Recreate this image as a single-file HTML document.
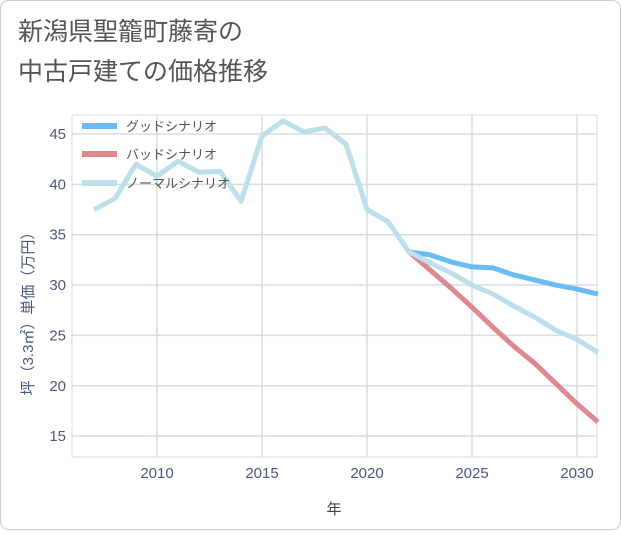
<!DOCTYPE html>
<html><head><meta charset="utf-8"><style>
body{margin:0;background:#fff;}
svg text{font-family:"Liberation Sans","Noto Sans CJK JP",sans-serif;}
</style></head><body>
<svg width="621" height="530">
<rect x="0.5" y="0.5" width="620" height="529" rx="8" fill="#fff" stroke="#ccc"/>
<text x="18" y="40" font-size="25" fill="#555">新潟県聖籠町藤寄の</text>
<text x="18" y="80" font-size="25" fill="#555">中古戸建ての価格推移</text>
<g id="grid"></g>
<g id="ticks"></g>
<g id="series"></g>
<text x="334" y="514" font-size="15" fill="#444" text-anchor="middle">年</text>
<text transform="translate(33,310) rotate(-90)" font-size="15" fill="#4a5a7a" text-anchor="middle">坪（3.3㎡）単価（万円）</text>
<g>
<line x1="82" y1="126" x2="117" y2="126" stroke="#6bbcf5" stroke-width="6"/>
<text x="126" y="131" font-size="13" fill="#555">グッドシナリオ</text>
<line x1="82" y1="154" x2="117" y2="154" stroke="#e0888f" stroke-width="6"/>
<text x="126" y="159" font-size="13" fill="#555">バッドシナリオ</text>
<line x1="82" y1="183" x2="117" y2="183" stroke="#bde0ec" stroke-width="6"/>
<text x="126" y="188" font-size="13" fill="#555">ノーマルシナリオ</text>
</g>
</svg>
<script>
const normalYears=[2007,2008,2009,2010,2011,2012,2013,2014,2015,2016,2017,2018,2019,2020,2021,2022,2023,2024,2025,2026,2027,2028,2029,2030,2031];
const normalValues=[37.5,38.6,42,40.8,42.3,41.2,41.3,38.3,44.8,46.3,45.2,45.6,44,37.5,36.3,33.3,32.2,31.2,30,29.1,27.9,26.8,25.5,24.6,23.3];
const forecastYears=[2022,2023,2024,2025,2026,2027,2028,2029,2030,2031];
const goodValues=[33.3,33.0,32.3,31.8,31.7,31.0,30.5,30.0,29.6,29.1];
const badValues=[33.3,31.5,29.7,27.8,25.8,23.9,22.2,20.2,18.2,16.4];
const xTicks=[2010,2015,2020,2025,2030];
const yTicks=[15,20,25,30,35,40,45];
const L=72,R=597,T=115,B=457;
const x=y=>157+(y-2010)*21;
const yv=v=>134+(45-v)*10.07;
const NS="http://www.w3.org/2000/svg";
function mk(tag,attrs,parent){const e=document.createElementNS(NS,tag);for(const k in attrs)e.setAttribute(k,attrs[k]);parent.appendChild(e);return e;}
const grid=document.getElementById('grid'),ticks=document.getElementById('ticks'),series=document.getElementById('series');
mk('rect',{x:L,y:T,width:R-L,height:B-T,fill:'none',stroke:'#d5dde5'},grid);
for(const t of xTicks){
 const l=mk('line',{x1:x(t),x2:x(t),y1:T,y2:B,stroke:'#d5dde5','stroke-width':1.5},grid);
 
 
 const s=mk('text',{x:x(t),y:478,'font-size':15,fill:'#4a5a7a','text-anchor':'middle'},ticks);s.textContent=t;
 
 
}
for(const t of yTicks){
 const l=mk('line',{x1:L,x2:R,y1:yv(t),y2:yv(t),stroke:'#d5dde5','stroke-width':1.5},grid);
 
 
 const s=mk('text',{x:66,y:yv(t)+5,'font-size':15,fill:'#4a5a7a','text-anchor':'end'},ticks);s.textContent=t;
 
 
}
function line(xs,vs,color,name){
 const p=mk('polyline',{points:xs.map((a,i)=>x(a)+','+yv(vs[i])).join(' '),fill:'none',stroke:color,'stroke-width':5,'stroke-linejoin':'round'},series);
 
 
}
line(forecastYears,goodValues,'#6bbcf5','good-scenario-line');
line(forecastYears,badValues,'#e0888f','bad-scenario-line');
line(normalYears,normalValues,'#bde0ec','normal-scenario-line');
</script>
</body></html>
